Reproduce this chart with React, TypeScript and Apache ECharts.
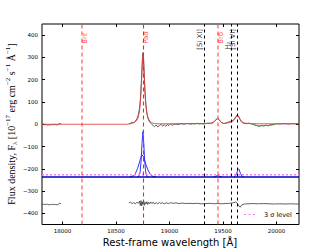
import React, { useEffect, useRef } from "react";
import * as echarts from "echarts";

const WL_MIN = 17808;
const WL_MAX = 20210;
const Y_MIN = -450;
const Y_MAX = 450;

const xTicks = [18000, 18500, 19000, 19500, 20000];
const yTicks = [-400, -300, -200, -100, 0, 100, 200, 300, 400];

// observed spectrum (two segments, telluric gap between)
const obsA: number[][] = [
  [17808, -2], [17822, 1], [17835, -3], [17848, -1], [17860, -4], [17873, -2], [17886, -4],
  [17899, 0], [17912, -3], [17925, -1], [17938, -2], [17950, -3], [17962, 0], [17975, 4], [17985, 1],
];
const obsB: number[][] = [
  [18620, 2], [18635, 4], [18650, 9], [18665, 6], [18680, 14], [18695, 24], [18708, 42], [18718, 68],
  [18728, 115], [18737, 195], [18744, 268], [18749, 315], [18753, 322], [18758, 288], [18764, 218],
  [18771, 145], [18780, 82], [18790, 44], [18800, 24], [18815, 9], [18830, 2], [18845, -5], [18860, -11],
  [18875, -3], [18890, -12], [18905, -6], [18920, 0], [18935, -8], [18950, -2], [18965, -9], [18980, -1],
  [18995, -6], [19010, 2], [19025, -5], [19040, -1], [19060, 1], [19080, -2], [19100, 2], [19120, 1],
  [19140, 0], [19160, 3], [19180, 2], [19200, 1], [19220, 3], [19240, 2], [19260, 4], [19280, 2],
  [19300, 3], [19320, 1], [19340, 3], [19360, 5], [19380, 4], [19400, 6], [19420, 12], [19435, 22],
  [19450, 27], [19462, 22], [19475, 12], [19490, 6], [19505, 3], [19520, 4], [19540, 8], [19560, 12],
  [19575, 14], [19590, 16], [19605, 22], [19620, 33], [19632, 42], [19642, 38], [19655, 25], [19670, 12],
  [19685, 6], [19700, 4], [19720, 3], [19740, 5], [19760, 2], [19780, 0], [19800, -4], [19820, -6],
  [19840, -8], [19860, -5], [19880, -7], [19900, -4], [19920, -6], [19940, -3], [19960, -2], [19980, 0],
  [20000, 2], [20030, 1], [20060, 3], [20090, 2], [20120, 1], [20150, 3], [20180, 2], [20210, 2],
];
// continuum windows (green)
const contA: number[][] = [
  [19190, 2], [19220, 3], [19240, 2], [19260, 4], [19280, 2], [19300, 3], [19310, 2],
];
const contB: number[][] = [
  [19790, -2], [19800, -4], [19820, -7], [19840, -9], [19860, -6], [19880, -8], [19900, -5],
  [19920, -7], [19940, -4], [19960, -3], [19985, -1],
];
// model fit (red)
const model: number[][] = [
  [17808, 0], [18600, 0], [18640, 3], [18670, 8], [18690, 15], [18705, 28], [18718, 55], [18728, 98],
  [18737, 178], [18744, 255], [18749, 303], [18752, 312], [18756, 294], [18762, 232], [18769, 155],
  [18778, 88], [18788, 49], [18800, 28], [18815, 14], [18835, 6], [18860, 3], [18900, 2], [19000, 2],
  [19100, 3], [19200, 3], [19300, 3], [19380, 4], [19410, 8], [19430, 18], [19450, 25], [19468, 18],
  [19485, 8], [19505, 4], [19540, 5], [19570, 9], [19595, 15], [19615, 28], [19632, 40], [19645, 36],
  [19660, 22], [19678, 10], [19700, 5], [19750, 3], [19850, 2], [20000, 2], [20210, 2],
];
// gaussian components (offset)
const gNarrow: number[][] = [
  [18700, -237], [18715, -233], [18725, -215], [18735, -160], [18743, -85], [18751, -33],
  [18759, -85], [18767, -160], [18777, -215], [18787, -233], [18800, -237],
];
const gBroad: number[][] = [
  [18630, -237], [18660, -232], [18680, -222], [18700, -200], [18715, -178], [18728, -155],
  [18740, -138], [18752, -142], [18765, -158], [18780, -182], [18798, -205], [18820, -225],
  [18845, -234], [18870, -237],
];
const gBrd: number[][] = [
  [19410, -237], [19430, -234], [19445, -231], [19450, -230], [19455, -231], [19470, -234], [19490, -237],
];
const gSi: number[][] = [
  [19600, -237], [19615, -233], [19628, -220], [19638, -205], [19645, -200], [19652, -205],
  [19662, -220], [19675, -233], [19690, -237],
];
const BASELINE = -237;
const SIGMA3 = -227;
// residuals
const resA: number[][] = [
  [17808, -358], [17822, -360], [17835, -359], [17848, -361], [17860, -359], [17873, -362],
  [17886, -360], [17899, -361], [17912, -359], [17925, -361], [17938, -360], [17950, -362],
  [17962, -359], [17975, -354], [17985, -357],
];
const resB: number[][] = [
  [18620, -353], [18635, -350], [18650, -356], [18665, -352], [18680, -357], [18695, -351], [18710, -354],
  [18720, -345], [18727, -365], [18733, -343], [18740, -366], [18746, -348], [18752, -360], [18758, -344],
  [18765, -364], [18772, -350], [18780, -358], [18788, -348], [18796, -360], [18805, -350], [18815, -357],
  [18825, -349], [18835, -356], [18848, -350], [18860, -358], [18875, -352], [18890, -357], [18905, -351],
  [18920, -356], [18935, -352], [18950, -357], [18970, -353], [18990, -356], [19010, -352], [19030, -355],
  [19060, -353], [19090, -356], [19120, -354], [19150, -356], [19180, -355], [19220, -356], [19260, -355],
  [19300, -357], [19340, -356], [19380, -355], [19420, -357], [19450, -355], [19480, -357], [19520, -356],
  [19560, -355], [19600, -352], [19620, -349], [19635, -356], [19650, -368], [19662, -372], [19675, -362],
  [19700, -358], [19740, -357], [19780, -356], [19830, -357], [19880, -356], [19930, -357], [19980, -358],
  [20030, -357], [20080, -358], [20130, -357], [20180, -358], [20210, -358],
];

// identified lines
const lineNames = ["Brε", "Paα", "[Si XI]", "Brδ", "H₂", "[Si VI]"];
const lineWl = [18179, 18751, 19320, 19451, 19576, 19630];
const lineKind = ["br", "pa", "ion", "br", "ion", "ion"];
const labelAnchor = [361, 361, 334, 361, 334, 334];

const fmt = (v: number) => String(v).replace("-", "\u2212");

export default function App() {
  const ref = useRef<HTMLDivElement>(null);
  useEffect(() => {
    if (!ref.current) return;
    const chart = echarts.init(ref.current, undefined, { renderer: "svg" });
    const tickFont = { fontFamily: "DejaVu Sans", fontSize: 5.5, color: "#000" };
    const lineStyleFor = (k: string) =>
      k === "br"
        ? { color: "rgba(255,70,70,0.55)", width: 2, type: [4, 3] }
        : k === "pa"
        ? { color: "#ff2020", width: 1.1, type: [4, 3] }
        : { color: "#000", width: 1, type: [3, 3] };
    const lineSeries = (name: string, data: number[][], color: string, width: number, extra: any = {}) => ({
      type: "line",
      name,
      data,
      showSymbol: false,
      symbol: "none",
      silent: true,
      itemStyle: { color },
      lineStyle: { color, width, ...(extra.lineStyle || {}) },
      z: extra.z ?? 2,
    });
    const axisCommon = {
      type: "value",
      axisLine: { show: false, onZero: false },
      splitLine: { show: false },
    };
    const option: any = {
      animation: false,
      grid: {
        left: 42,
        top: 24,
        right: 33,
        bottom: 24.5,
        show: true,
        borderColor: "#000",
        borderWidth: 1,
        backgroundColor: "transparent",
      },
      legend: {
        data: [
          {
            name: "3 σ level",
            icon: "path://M0,0h2v1h-2zM4,0h2v1h-2zM8,0h2v1h-2z",
          },
        ],
        left: 244,
        top: 211,
        padding: 0,
        itemWidth: 11,
        itemHeight: 1.5,
        textStyle: { fontFamily: "DejaVu Sans", fontSize: 6.5, color: "#000", padding: [0, 0, 0, 4] },
        selectedMode: false,
      },
      xAxis: [
        {
          ...axisCommon,
          min: WL_MIN,
          max: WL_MAX,
          position: "bottom",
          axisTick: { inside: true, length: 3, customValues: xTicks, lineStyle: { color: "#000" } },
          axisLabel: { customValues: xTicks, margin: 3, formatter: fmt, ...tickFont },
        },
        {
          ...axisCommon,
          min: WL_MIN,
          max: WL_MAX,
          position: "top",
          axisTick: { inside: true, length: 3, customValues: xTicks, lineStyle: { color: "#000" } },
          axisLabel: { show: false },
        },
      ],
      yAxis: [
        {
          ...axisCommon,
          min: Y_MIN,
          max: Y_MAX,
          position: "left",
          axisTick: { inside: true, length: 3, customValues: yTicks, lineStyle: { color: "#000" } },
          axisLabel: { customValues: yTicks, margin: 4, formatter: fmt, ...tickFont },
        },
        {
          ...axisCommon,
          min: Y_MIN,
          max: Y_MAX,
          position: "right",
          axisTick: { inside: true, length: 3, customValues: yTicks, lineStyle: { color: "#000" } },
          axisLabel: { show: false },
        },
      ],
      series: [
        lineSeries("obsA", obsA, "#3a3a3a", 0.8),
        lineSeries("obsB", obsB, "#3a3a3a", 0.8),
        lineSeries("contA", contA, "#33aa33", 1),
        lineSeries("contB", contB, "#33aa33", 1),
        lineSeries("model", model, "rgba(230,60,60,0.85)", 1, { z: 3 }),
        lineSeries("resA", resA, "#3a3a3a", 0.8),
        lineSeries("resB", resB, "#3a3a3a", 0.8),
        lineSeries("gNarrow", gNarrow, "#3333ff", 1),
        lineSeries("gBroad", gBroad, "#3333ff", 1),
        lineSeries("gBrd", gBrd, "#3333ff", 1),
        lineSeries("gSi", gSi, "#3333ff", 1),
        lineSeries(
          "3 σ level",
          [
            [WL_MIN, SIGMA3],
            [WL_MAX, SIGMA3],
          ],
          "#ee82ee",
          1.5,
          { lineStyle: { type: [2, 2] }, z: 4 }
        ),
        lineSeries(
          "baseline",
          [
            [WL_MIN, BASELINE],
            [WL_MAX, BASELINE],
          ],
          "#0000bb",
          1.5,
          { z: 4 }
        ),
        {
          type: "line",
          name: "lines",
          data: [],
          silent: true,
          markLine: {
            silent: true,
            symbol: ["none", "none"],
            label: { show: false },
            animation: false,
            data: lineWl.map((w, i) => ({ xAxis: w, lineStyle: lineStyleFor(lineKind[i]) })),
          },
          z: 5,
        },
        {
          type: "scatter",
          name: "labels",
          symbolSize: 0,
          silent: true,
          z: 6,
          data: lineWl.map((w, i) => ({
            value: [w, labelAnchor[i]],
            label: {
              show: true,
              formatter: lineNames[i],
              position: "inside",
              rotate: 90,
              align: "left",
              verticalAlign: lineKind[i] === "ion" ? "bottom" : "top",
              fontFamily: "DejaVu Sans",
              fontSize: 7,
              color: lineKind[i] === "ion" ? "#000" : "#ff2020",
            },
          })),
        },
      ],
      graphic: [
        {
          type: "text",
          x: 170,
          y: 242,
          style: {
            text: "Rest-frame wavelength [Å]",
            fontFamily: "DejaVu Sans",
            fontSize: 10,
            fill: "#000",
            align: "center",
            verticalAlign: "middle",
          },
        },
        {
          type: "text",
          x: 11,
          y: 124,
          rotation: Math.PI / 2,
          style: {
            text:
              "{n|Flux density, F}{s|λ}{n| [10}{p|−17}{n| erg cm}{p|−2}{n| s}{p|−1}{n| Å}{p|−1}{n|]}",
            align: "center",
            verticalAlign: "middle",
            fill: "#000",
            rich: {
              n: { fontFamily: "Liberation Serif", fontSize: 10, lineHeight: 14, verticalAlign: "middle", fill: "#000" },
              p: { fontFamily: "Liberation Serif", fontSize: 7, lineHeight: 8, verticalAlign: "top", fill: "#000" },
              s: { fontFamily: "Liberation Serif", fontSize: 7, lineHeight: 8, verticalAlign: "bottom", fill: "#000" },
            },
          },
        },
      ],
    };
    chart.setOption(option);
    return () => chart.dispose();
  }, []);
  return (
    <div
      ref={ref}
      style={{ position: "absolute", left: 0, top: 0, width: 332, height: 249, background: "#fff" }}
    />
  );
}
